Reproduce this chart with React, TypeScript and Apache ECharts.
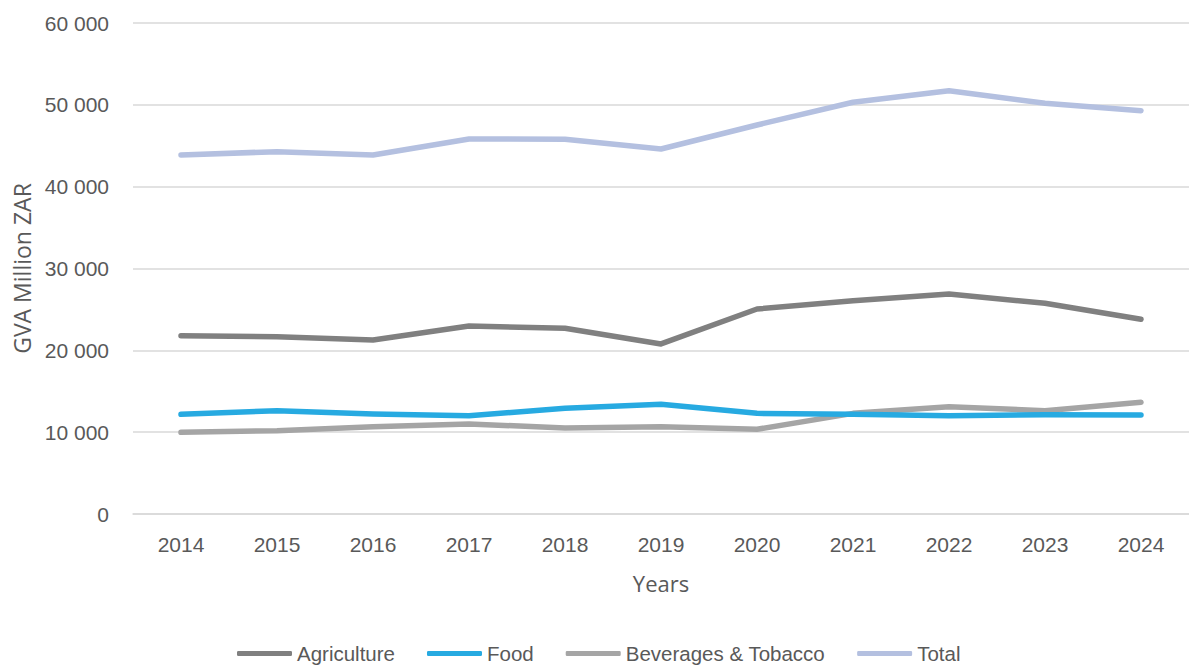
import React, { useEffect, useRef } from "react";
import * as echarts from "echarts";

// GVA (million ZAR) of primary agriculture and agro-processing, 2014–2024
const years = ["2014", "2015", "2016", "2017", "2018", "2019", "2020", "2021", "2022", "2023", "2024"];
const agriculture = [21790, 21670, 21260, 22970, 22690, 20780, 25050, 26070, 26880, 25750, 23790];
const food = [12180, 12620, 12220, 12020, 12910, 13400, 12300, 12180, 12020, 12140, 12100];
const beverages = [9980, 10180, 10670, 11000, 10510, 10670, 10350, 12300, 13110, 12620, 13650];
const total = [43870, 44280, 43870, 45830, 45790, 44600, 47540, 50310, 51730, 50190, 49290];

const seriesNames = ["Agriculture", "Food", "Beverages & Tobacco", "Total"];
const seriesColors = ["#808080", "#27aae1", "#a5a5a5", "#b4c0e0"];

const narrow = "'Liberation Sans Narrow', 'Arial Narrow', 'Liberation Sans', sans-serif";
const regular = "'Open Sans', 'Liberation Sans', sans-serif";

const fmt = (v: number) => String(v).replace(/\B(?=(\d{3})+(?!\d))/g, " ");

export default function App() {
  const ref = useRef<HTMLDivElement>(null);

  useEffect(() => {
    if (!ref.current) return;
    const chart = echarts.init(ref.current, undefined, { renderer: "svg" });
    const dataSets = [agriculture, food, beverages, total];

    chart.setOption({
      animation: false,
      backgroundColor: "#ffffff",
      grid: {
        left: 133,
        right: 0,
        top: 23,
        bottom: 152,
        containLabel: false,
        outerBoundsMode: "none",
      },
      legend: {
        left: 232,
        top: 638,
        icon: "roundRect",
        itemWidth: 55,
        itemHeight: 5,
        itemGap: 32,
        data: seriesNames,
        textStyle: { fontFamily: narrow, fontSize: 20.5, color: "#595959" },
      },
      xAxis: {
        type: "category",
        data: years,
        boundaryGap: true,
        name: "Years",
        nameLocation: "middle",
        nameGap: 58,
        nameTextStyle: { fontFamily: regular, fontSize: 22, color: "#595959" },
        axisLine: { show: true, lineStyle: { color: "#d9d9d9", width: 1.5 } },
        axisTick: { show: false },
        axisLabel: { fontFamily: narrow, fontSize: 21, color: "#595959", margin: 20 },
      },
      yAxis: {
        type: "value",
        min: 0,
        max: 60000,
        interval: 10000,
        name: "GVA Million ZAR",
        nameLocation: "middle",
        nameGap: 100,
        nameTextStyle: { fontFamily: regular, fontSize: 23, color: "#595959" },
        axisLine: { show: false },
        axisTick: { show: false },
        splitLine: { lineStyle: { color: "#d9d9d9", width: 1.5 } },
        axisLabel: {
          fontFamily: narrow,
          fontSize: 21,
          color: "#595959",
          margin: 24,
          formatter: (v: number) => fmt(v),
        },
      },
      series: seriesNames.map((name, i) => ({
        name,
        type: "line",
        data: dataSets[i],
        showSymbol: false,
        symbol: "none",
        color: seriesColors[i],
        lineStyle: { width: 5.5, color: seriesColors[i], cap: "round", join: "round" },
        z: i === 1 ? 3 : 2,
      })),
    });

    return () => chart.dispose();
  }, []);

  return (
    <div style={{ position: "fixed", left: 0, top: 0, width: 1189, height: 666, overflow: "hidden", background: "#fff" }}>
      <div ref={ref} style={{ width: 1189, height: 666 }} />
    </div>
  );
}
